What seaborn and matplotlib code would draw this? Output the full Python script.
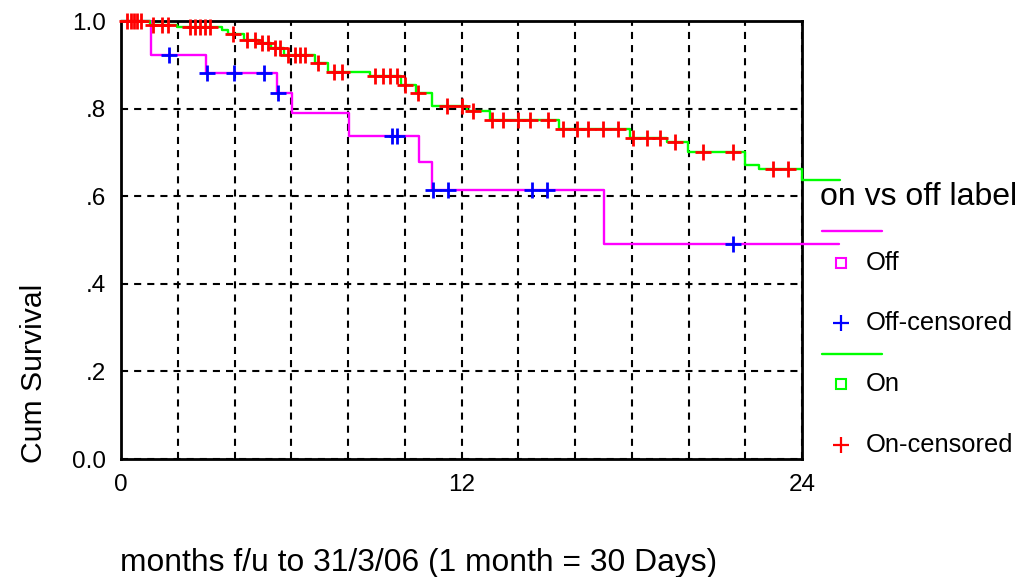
import numpy as np
import pandas as pd
import seaborn as sns
import matplotlib.pyplot as plt
from matplotlib.lines import Line2D
from matplotlib.ticker import MultipleLocator

# Kaplan-Meier steps (months, cumulative survival)
off_times = [0, 1.05, 3.0, 5.49, 6.03, 8.04, 10.51, 10.95, 17.02, 25.3]
off_surv = [1.0, 0.923, 0.882, 0.835, 0.789, 0.738, 0.677, 0.615, 0.492, 0.492]
off_censored = [1.68, 3.04, 3.97, 5.03, 5.53, 9.54, 9.71, 10.98, 11.53, 14.47, 15.0, 21.56]

on_times = [0, 1.02, 1.96, 3.55, 3.78, 4.35, 4.85, 5.30, 5.75, 6.84, 7.30, 8.78,
            9.85, 10.40, 10.95, 12.18, 13.0, 15.45, 17.94, 19.25, 19.99, 21.99,
            22.5, 23.99, 25.34]
on_surv = [1.0, 0.991, 0.986, 0.979, 0.970, 0.957, 0.949, 0.938, 0.923, 0.905, 0.883, 0.875,
           0.854, 0.836, 0.805, 0.795, 0.773, 0.754, 0.733, 0.723, 0.702, 0.672,
           0.661, 0.636, 0.636]
on_censored = [0.22, 0.35, 0.45, 0.55, 0.72, 1.14, 1.45, 1.67, 2.43, 2.61, 2.78, 2.96, 3.14,
               3.96, 4.43, 4.72, 4.96, 5.19, 5.43, 5.60, 5.90, 6.13, 6.31, 6.48, 6.95,
               7.50, 7.80, 8.95, 9.24, 9.48, 9.72, 10.01, 10.48, 11.48, 12.0, 12.42,
               13.06, 13.47, 14.0, 14.41, 15.06, 15.59, 16.06, 16.45, 17.0, 17.53,
               18.05, 18.53, 19.0, 19.52, 20.52, 21.58, 22.99, 23.52]

xticks = [0, 12, 24]
yticks = [0, 0.2, 0.4, 0.6, 0.8, 1.0]
ytick_labels = ['0.0', '.2', '.4', '.6', '.8', '1.0']


def level_at(times, surv, t):
    # survival value of the step curve at the censoring time
    idx = np.searchsorted(times, t, side='right') - 1
    return np.asarray(surv)[idx]


off_df = pd.DataFrame({'t': off_times, 's': off_surv})
on_df = pd.DataFrame({'t': on_times, 's': on_surv})
off_c = pd.DataFrame({'t': off_censored, 's': level_at(off_times, off_surv, off_censored)})
on_c = pd.DataFrame({'t': on_censored, 's': level_at(on_times, on_surv, on_censored)})

sns.set_style('white')
plt.rcParams['font.family'] = ['Liberation Sans', 'DejaVu Sans']
plt.rcParams['text.color'] = 'black'

fig = plt.figure(figsize=(10.3, 5.77), dpi=100)
ax = fig.add_axes([0.1175, 0.2045, 0.6612, 0.7591])

magenta, green, blue, red = '#ff00ff', '#00ff00', '#0000ff', '#ff0000'

sns.lineplot(data=off_df, x='t', y='s', ax=ax, color=magenta, lw=1.7,
             drawstyle='steps-post', estimator=None, sort=False, clip_on=False, zorder=3)
sns.lineplot(data=on_df, x='t', y='s', ax=ax, color=green, lw=1.7,
             drawstyle='steps-post', estimator=None, sort=False, clip_on=False, zorder=3)
sns.scatterplot(data=off_c, x='t', y='s', ax=ax, marker='+', color=blue, s=140,
                linewidth=2, clip_on=False, zorder=4)
sns.scatterplot(data=on_c, x='t', y='s', ax=ax, marker='+', color=red, s=140,
                linewidth=2, clip_on=False, zorder=4)

ax.set_xlim(0, 24)
ax.set_ylim(0, 1)
ax.set_xticks(xticks)
ax.xaxis.set_minor_locator(MultipleLocator(2))
ax.set_yticks(yticks)
ax.set_yticklabels(ytick_labels)
ax.set_xlabel('')
ax.set_ylabel('')

dash = (0, (3.4, 2.9))
ax.grid(True, which='both', axis='x', color='black', lw=1.5, linestyle=dash)
ax.grid(True, which='major', axis='y', color='black', lw=1.5, linestyle=dash)
ax.set_axisbelow(True)

for sp in ax.spines.values():
    sp.set_visible(True)
    sp.set_color('black')
    sp.set_linewidth(2)

ax.tick_params(which='major', direction='out', length=3, width=3, color='black',
               labelcolor='black', labelsize=17.5, pad=8)
ax.tick_params(which='minor', length=0)

fig.text(34 / 1030, 1 - 373 / 577, 'Cum Survival', rotation=90, ha='center',
         va='center', fontsize=21.7)
fig.text(120 / 1030, 1 - 563 / 577, 'months f/u to 31/3/06 (1 month = 30 Days)',
         ha='left', va='center', fontsize=22.9)

# legend, laid out like the original SPSS key
fig.text(820 / 1030, 1 - 197 / 577, 'on vs off label', ha='left', va='center', fontsize=23)
for y_line, col in [(231, magenta), (354, green)]:
    fig.add_artist(Line2D([822 / 1030, 882 / 1030], [1 - y_line / 577] * 2, color=col, lw=1.7))
entries = [(263, 's', magenta, 'Off'), (323, '+', blue, 'Off-censored'),
           (384, 's', green, 'On'), (445, '+', red, 'On-censored')]
for y_row, mk, col, lab in entries:
    if mk == 's':
        fig.add_artist(Line2D([841 / 1030], [1 - y_row / 577], marker='s', ms=6.5,
                              mfc='none', mec=col, mew=1.5, ls='none'))
    else:
        fig.add_artist(Line2D([841 / 1030], [1 - y_row / 577], marker='+', ms=12,
                              mec=col, mew=1.6, ls='none'))
    fig.text(866 / 1030, 1 - y_row / 577, lab, ha='left', va='center', fontsize=18.4)

fig.savefig('out.png', dpi=100)
